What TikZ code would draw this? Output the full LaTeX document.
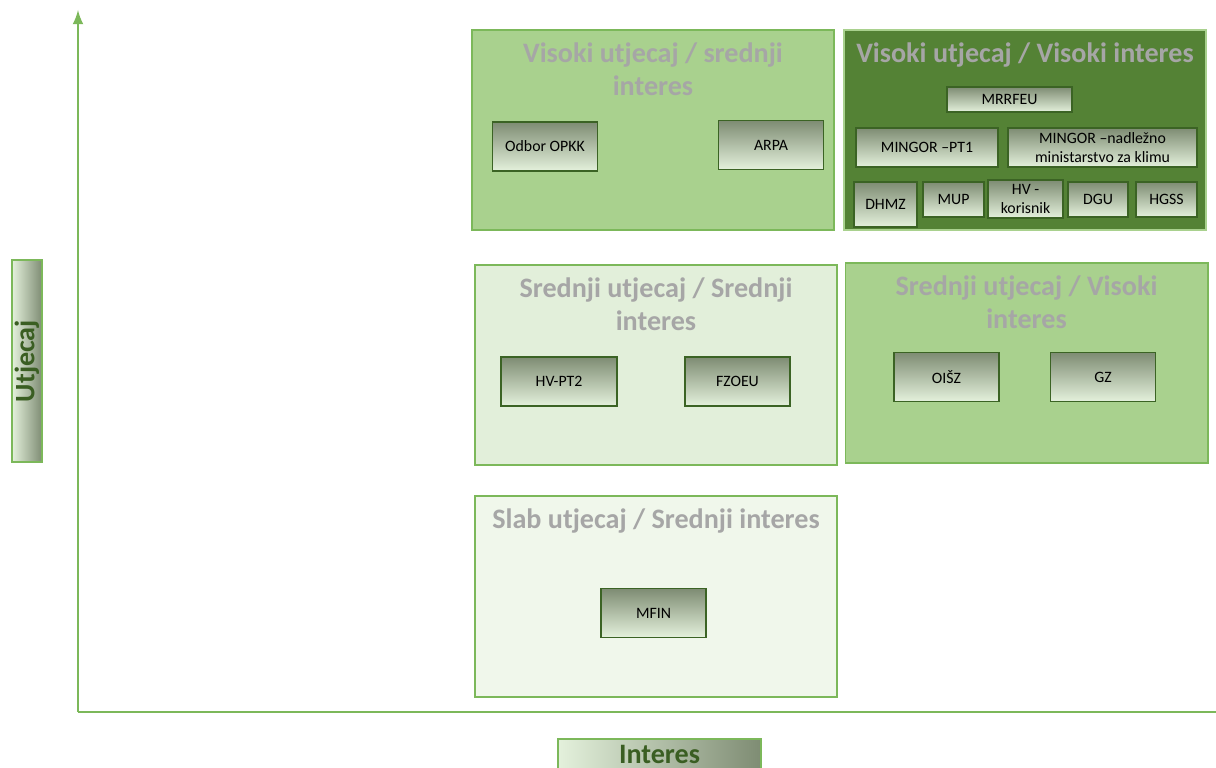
\documentclass[tikz,border=0pt]{standalone}
\usepackage{fontspec}
\setmainfont{Carlito}
\usetikzlibrary{shapes,arrows,positioning}

\definecolor{darkfill}{HTML}{548235}
\definecolor{midfill}{HTML}{A9D18E}
\definecolor{lightfill}{HTML}{E2EFDA}
\definecolor{palefill}{HTML}{F0F7EB}
\definecolor{fieldline}{HTML}{7CB85A}
\definecolor{titlegray}{HTML}{A6A6A6}
\definecolor{actorline}{HTML}{3B6324}
\definecolor{shadetop}{HTML}{7E8C73}
\definecolor{shadebot}{HTML}{E4F1DC}
\definecolor{axistext}{HTML}{3A5E22}

\begin{document}
\begin{tikzpicture}[x=0.01cm, y=-0.01cm, >=latex,
  field/.style={draw=fieldline, line width=0.5pt, minimum width=3.62cm,
    minimum height=2cm, inner sep=0},
  fieldtitle/.style={text=titlegray, font=\bfseries\fontsize{8}{9.4}\selectfont,
    align=center, inner sep=0},
  actor/.style={draw=actorline, line width=0.45pt, top color=shadetop,
    bottom color=shadebot, font=\fontsize{4.5}{5.4}\selectfont, align=center,
    inner sep=0, minimum width=1.05cm, minimum height=0.49cm},
  axislabel/.style={draw=fieldline, line width=0.5pt, left color=shadebot,
    right color=shadetop, text=axistext, font=\bfseries\fontsize{8}{9}\selectfont,
    inner sep=0, minimum height=0.30cm}]
  \useasboundingbox (0,0) rectangle (1216,767);

  \coordinate (o) at (78,712);
  \coordinate (ytop) at (78,10);
  \coordinate (xend) at (1216,712);
  \draw[->, fieldline, line width=0.4pt] (o) -- (ytop);
  \draw[fieldline, line width=0.4pt] (o) -- (xend);

  \node[field, fill=midfill] (tm) at (653,130) {};
  \node[field, fill=darkfill, draw=midfill] (tr) at (1025,130) {};
  \node[field, fill=lightfill] (mm) at (656,365) {};
  \node[field, fill=midfill] (mr) at (1026.5,363) {};
  \node[field, fill=palefill, minimum height=2.01cm] (bm) at (656,596.5) {};

  \node[fieldtitle, below=0.13cm of tm.north] {Visoki utjecaj / srednji\\interes};
  \node[fieldtitle, below=0.13cm of tr.north] {Visoki utjecaj / Visoki interes};
  \node[fieldtitle, below=0.13cm of mm.north] {Srednji utjecaj / Srednji\\interes};
  \node[fieldtitle, below=0.13cm of mr.north] {Srednji utjecaj / Visoki\\interes};
  \node[fieldtitle, below=0.13cm of bm.north] {Slab utjecaj / Srednji interes};

  \node[actor] (opkk) at (545,146.5) {Odbor OPKK};
  \node[actor] (arpa) at (771,145) {ARPA};
  \node[actor, minimum width=1.25cm, minimum height=0.25cm] (mrrfeu) at (1009.5,99.5) {MRRFEU};
  \node[actor, minimum width=1.42cm, minimum height=0.39cm] (pt1) at (927,147.5) {MINGOR –PT1};
  \node[actor, minimum width=1.89cm, minimum height=0.39cm] (klima) at (1102.5,147.5) {MINGOR –nadležno\\ministarstvo za klimu};
  \node[actor, minimum width=0.63cm, minimum height=0.45cm] (dhmz) at (885.5,204.5) {DHMZ};
  \node[actor, minimum width=0.61cm, minimum height=0.35cm] (mup) at (953.5,199.5) {MUP};
  \node[actor, minimum width=0.75cm, minimum height=0.38cm] (hvk) at (1025.5,199) {HV -\\korisnik};
  \node[actor, minimum width=0.60cm, minimum height=0.35cm] (dgu) at (1098,199.5) {DGU};
  \node[actor, minimum width=0.61cm, minimum height=0.35cm] (hgss) at (1166.5,199.5) {HGSS};
  \node[actor, minimum width=1.16cm] (hvpt2) at (559,381.5) {HV-PT2};
  \node[actor] (fzoeu) at (737.5,381.5) {FZOEU};
  \node[actor] (oisz) at (946.5,377) {OIŠZ};
  \node[actor] (gz) at (1103,377) {GZ};
  \node[actor] (mfin) at (653.5,613) {MFIN};

  \node[axislabel, rotate=90, minimum width=2.02cm] (ut) at (27,361) {Utjecaj};
  \node[axislabel, minimum width=2.03cm] (int) at (659.5,754) {Interes};
\end{tikzpicture}
\end{document}
